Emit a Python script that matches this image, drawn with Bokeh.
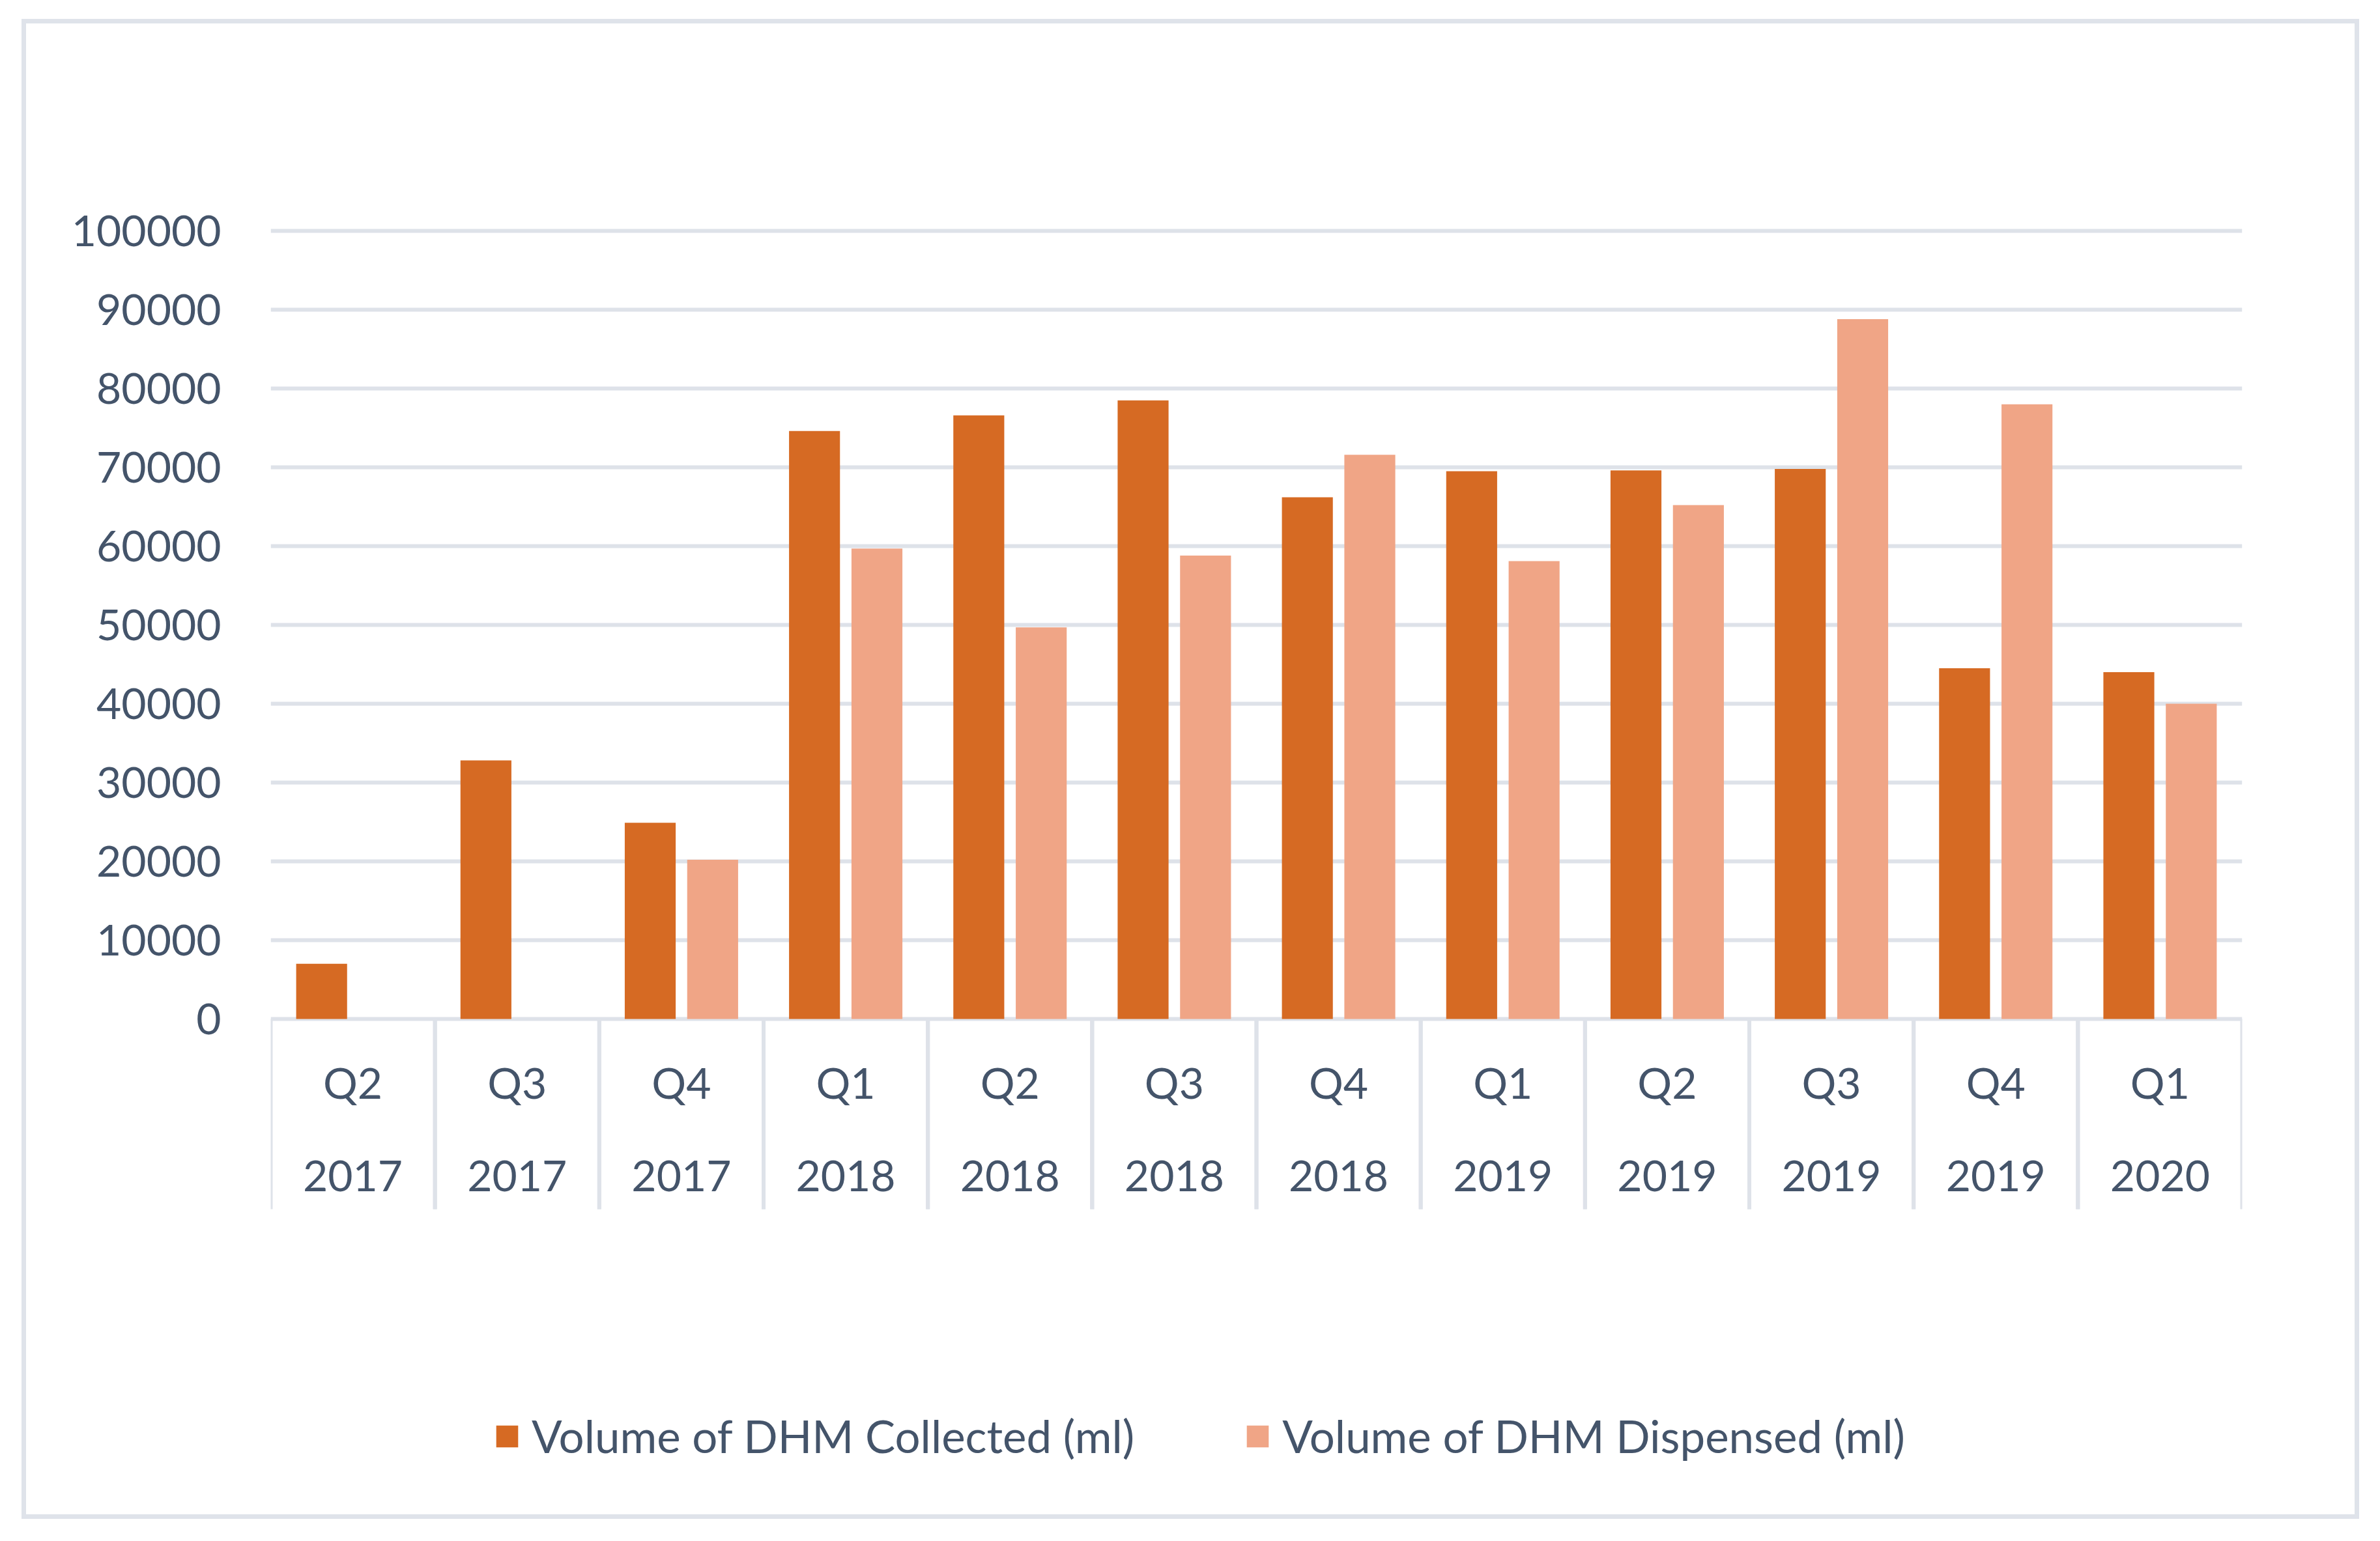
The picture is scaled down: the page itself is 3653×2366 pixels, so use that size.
import math
from bokeh.plotting import figure
from bokeh.models import (FactorRange, Range1d, FixedTicker, ColumnDataSource,
                          Legend, LegendItem, BasicTickFormatter)
from bokeh.core.properties import value
from bokeh.transform import dodge
from bokeh.embed import file_html
from bokeh.resources import INLINE

# ---- data ----
quarters = ["Q2", "Q3", "Q4", "Q1", "Q2", "Q3", "Q4", "Q1", "Q2", "Q3", "Q4", "Q1"]
years = ["2017", "2017", "2017", "2018", "2018", "2018", "2018", "2019", "2019", "2019", "2019", "2020"]
collected = [7000, 32800, 24900, 74600, 76600, 78500, 66200, 69500, 69600, 69800, 44500, 44000]
dispensed = [0, 0, 20200, 59700, 49700, 58800, 71600, 58100, 65200, 88800, 78000, 40000]
series_names = ["Volume of DHM Collected (ml)", "Volume of DHM Dispensed (ml)"]
y_ticks = [0, 10000, 20000, 30000, 40000, 50000, 60000, 70000, 80000, 90000, 100000]

factors = [f"{q} {y}" for q, y in zip(quarters, years)]
src = ColumnDataSource(dict(x=factors, q=quarters, yr=years, c=collected, d=dispensed))

TEXT = "#44546a"
GRID = "#dee2e9"
BORDER = "#dfe3ea"
FONT = "Lato"
FS = "66px"
FS_LEG = "69px"
C_COL = "#d66a23"
C_DIS = "#f0a586"

W, H = 3636, 2348
PLOT_TOP, PLOT_BOTTOM = 354, 1564          # pixel rows of 100000 and 0
px_per_unit = (PLOT_BOTTOM - PLOT_TOP) / 100000.0
y_start = -(H - PLOT_BOTTOM) / px_per_unit
y_end = 100000 + PLOT_TOP / px_per_unit

p = figure(width=W, height=H,
           x_range=FactorRange(factors=factors), y_range=Range1d(y_start, y_end),
           output_backend="svg", toolbar_location=None, x_axis_location=None,
           min_border_left=415, min_border_right=W - 3441, min_border_top=0, min_border_bottom=0)
p.outline_line_color = None
p.background_fill_color = None
p.background_fill_alpha = 0
p.border_fill_color = None
p.border_fill_alpha = 0

# outer chart frame (drawn as CSS background lines behind the transparent canvas)
BL, BT, BR, BB, BW = 33, 29, 3621, 2332, 7
grad = f"linear-gradient({BORDER}, {BORDER})"
p.styles = {
    "background-color": "white",
    "background-image": ", ".join([grad] * 4),
    "background-position": f"{BL}px {BT}px, {BL}px {BB - BW}px, {BL}px {BT}px, {BR - BW}px {BT}px",
    "background-size": f"{BR - BL}px {BW}px, {BR - BL}px {BW}px, {BW}px {BB - BT}px, {BW}px {BB - BT}px",
    "background-repeat": "no-repeat",
}

# y axis
yax = p.yaxis[0]
yax.ticker = FixedTicker(ticks=y_ticks)
yax.formatter = BasicTickFormatter(use_scientific=False)
yax.axis_line_color = None
yax.major_tick_line_color = None
yax.minor_tick_line_color = None
yax.major_label_standoff = 70
yax.major_label_text_font = FONT
yax.major_label_text_font_size = FS
yax.major_label_text_color = TEXT

p.ygrid.ticker = FixedTicker(ticks=y_ticks)
p.ygrid.grid_line_color = GRID
p.ygrid.grid_line_width = 6
p.xgrid.visible = False

# bars
r1 = p.vbar(x=dodge("x", -0.19, range=p.x_range), top="c", width=0.31, source=src,
            fill_color=C_COL, line_color=None)
r2 = p.vbar(x=dodge("x", 0.19, range=p.x_range), top="d", width=0.31, source=src,
            fill_color=C_DIS, line_color=None)

# category separators below the baseline
for off in (-0.5, 0.5):
    p.ray(x=dodge("x", off, range=p.x_range), y=0, length=292, length_units="screen",
          angle=-math.pi / 2, source=src, line_color=GRID, line_width=6)

# two-level category labels
p.text(x="x", y=0, y_offset=97, text="q", source=src,
       text_align="center", text_baseline="middle",
       text_font=value(FONT), text_font_size=FS, text_color=TEXT)
p.text(x="x", y=0, y_offset=241, text="yr", source=src,
       text_align="center", text_baseline="middle",
       text_font=value(FONT), text_font_size=FS, text_color=TEXT)

# legend
legend = Legend(items=[LegendItem(label=value(series_names[0]), renderers=[r1]),
                       LegendItem(label=value(series_names[1]), renderers=[r2])],
                location=(342, 102), orientation="horizontal",
                glyph_width=42, glyph_height=42, label_standoff=17, spacing=168,
                padding=0, margin=0, border_line_color=None, background_fill_alpha=0,
                label_text_font=FONT, label_text_font_size=FS_LEG, label_text_color=TEXT)
p.add_layout(legend)

open("out.html", "w").write(file_html(p, INLINE))
